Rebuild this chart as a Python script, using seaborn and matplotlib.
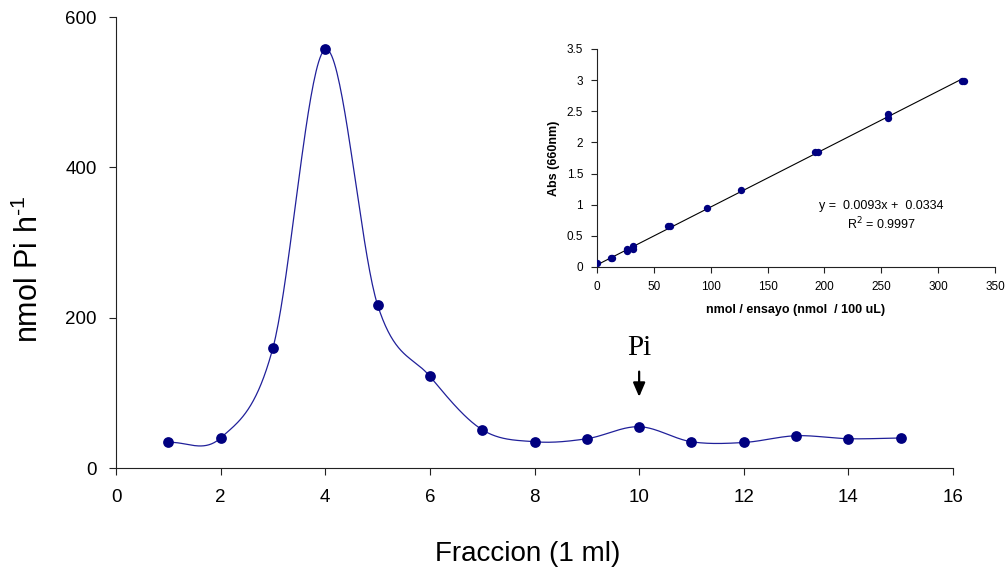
import numpy as np
import pandas as pd
import matplotlib
matplotlib.use("Agg")
import matplotlib.pyplot as plt
import seaborn as sns

# Elution profile: activity per fraction
fraccion = [1, 2, 3, 4, 5, 6, 7, 8, 9, 10, 11, 12, 13, 14, 15]
actividad = [34, 40, 160, 557, 217, 122, 51, 35, 39, 55, 35, 34, 43, 39, 40]

# Phosphate standard curve (replicates)
std_nmol = [0, 12, 13, 26, 26, 32, 32, 62, 64, 97, 127, 192, 194, 256, 256, 321, 323]
std_abs = [0.06, 0.14, 0.14, 0.29, 0.25, 0.33, 0.29, 0.65, 0.65, 0.94, 1.23,
           1.85, 1.85, 2.45, 2.39, 2.99, 2.99]
pendiente = 0.0093
intercepto = 0.0334
r2 = 0.9997

main_ticks_x = [0, 2, 4, 6, 8, 10, 12, 14, 16]
main_ticks_y = [0, 200, 400, 600]
inset_ticks_x = [0, 50, 100, 150, 200, 250, 300, 350]
inset_ticks_y = [0, 0.5, 1, 1.5, 2, 2.5, 3, 3.5]

NAVY = "#000080"
LINE = "#20209a"

sns.set_theme(style="white")
plt.rcParams["font.family"] = ["Liberation Sans", "DejaVu Sans"]
plt.rcParams["text.color"] = "black"
plt.rcParams["axes.labelcolor"] = "black"


def catmull_rom(x, y, n=40):
    """Smooth curve through the given points (Catmull-Rom spline)."""
    x = np.asarray(x, float)
    y = np.asarray(y, float)
    px = np.concatenate([[2 * x[0] - x[1]], x, [2 * x[-1] - x[-2]]])
    py = np.concatenate([[2 * y[0] - y[1]], y, [2 * y[-1] - y[-2]]])
    xs, ys = [], []
    t = np.linspace(0, 1, n, endpoint=False)
    for i in range(1, len(px) - 2):
        for arr, out in ((px, xs), (py, ys)):
            p0, p1, p2, p3 = arr[i - 1], arr[i], arr[i + 1], arr[i + 2]
            out.append(0.5 * ((2 * p1) + (-p0 + p2) * t
                              + (2 * p0 - 5 * p1 + 4 * p2 - p3) * t ** 2
                              + (-p0 + 3 * p1 - 3 * p2 + p3) * t ** 3))
    xs.append([x[-1]])
    ys.append([y[-1]])
    return np.concatenate(xs), np.concatenate(ys)


def style_spines(a):
    for side in ("top", "right"):
        a.spines[side].set_visible(False)
    for side in ("left", "bottom"):
        a.spines[side].set_color("#222222")
        a.spines[side].set_linewidth(0.8)


fig = plt.figure(figsize=(10.07, 5.75), dpi=100)
ax = fig.add_axes([0.1152, 0.186, 0.8312, 0.7843])

cx, cy = catmull_rom(fraccion, actividad)
curva = pd.DataFrame({"x": cx, "y": cy})
sns.lineplot(data=curva, x="x", y="y", ax=ax, color=LINE, linewidth=0.9,
             sort=False, estimator=None)
perfil = pd.DataFrame({"x": fraccion, "y": actividad})
sns.scatterplot(data=perfil, x="x", y="y", ax=ax, color=NAVY, s=60,
                edgecolor=NAVY, linewidth=0, zorder=3)

ax.set_xlim(0, 16)
ax.set_ylim(0, 600)
ax.set_xticks(main_ticks_x)
ax.set_yticks(main_ticks_y)
ax.tick_params(axis="both", which="both", direction="out", length=5, width=0.8,
               colors="#222222", labelsize=13.5, labelcolor="black",
               left=True, bottom=True)
ax.tick_params(axis="x", pad=10)
ax.tick_params(axis="y", pad=9)
style_spines(ax)
ax.set_xlabel("Fraccion (1 ml)", fontsize=20, va="center")
ax.xaxis.set_label_coords(0.492, -0.19)
ax.set_ylabel("nmol Pi h$^{\\mathregular{\u20101}}$", fontsize=22, va="center")
ax.yaxis.set_label_coords(-0.103, 0.44)

# Free phosphate marker
ax.annotate("", xy=(10, 91), xytext=(10, 132),
            arrowprops=dict(arrowstyle="-|>,head_width=0.3,head_length=0.7",
                            color="black", lw=1.6))
ax.text(10, 160, "Pi", ha="center", va="center", fontsize=21,
        family=["Liberation Serif", "DejaVu Serif"])

# Inset: standard curve
ins = fig.add_axes([0.5929, 0.5357, 0.3952, 0.3791])
rx = np.array([0, 322])
recta = pd.DataFrame({"x": rx, "y": pendiente * rx + intercepto})
sns.lineplot(data=recta, x="x", y="y", ax=ins, color="black", linewidth=0.8)
estandar = pd.DataFrame({"x": std_nmol, "y": std_abs})
sns.scatterplot(data=estandar, x="x", y="y", ax=ins, color=NAVY, s=28,
                edgecolor=NAVY, linewidth=0, zorder=3)
ins.set_xlim(0, 350)
ins.set_ylim(0, 3.5)
ins.set_xticks(inset_ticks_x)
ins.set_yticks(inset_ticks_y)
ins.set_yticklabels(["0", "0.5", "1", "1.5", "2", "2.5", "3", "3.5"])
ins.tick_params(axis="both", direction="out", length=4, width=0.8,
                colors="#222222", labelsize=8.5, labelcolor="black",
                left=True, bottom=True, pad=6)
style_spines(ins)
ins.set_facecolor("none")
ins.set_xlabel("nmol / ensayo (nmol  / 100 uL)", fontsize=9,
               fontweight="bold", labelpad=8)
ins.set_ylabel("Abs (660nm)", fontsize=9, fontweight="bold", labelpad=5)
ins.text(250, 0.98, f"y =  {pendiente:.4f}x +  {intercepto:.4f}", ha="center",
         va="center", fontsize=9)
ins.text(250, 0.69, f"R$^{{2}}$ = {r2:.4f}", ha="center", va="center",
         fontsize=9)

fig.savefig("out.png", dpi=100)
